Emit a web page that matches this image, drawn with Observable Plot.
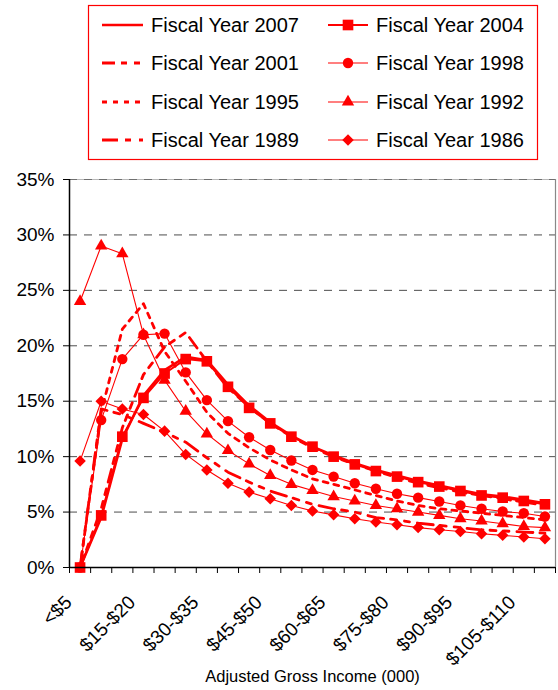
<!DOCTYPE html>
<html><head><meta charset="utf-8">
<script src="https://cdn.jsdelivr.net/npm/d3@7"></script>
<script src="https://cdn.jsdelivr.net/npm/@observablehq/plot@0.6"></script>
<style>
html,body{margin:0;padding:0;background:#fff;}
body{width:558px;height:690px;overflow:hidden;font-family:Arial,"Liberation Sans",sans-serif;}
#legend{width:558px;height:165px;display:block;}
#chart svg{display:block;}
</style></head><body>
<svg id="legend" width="558" height="165"></svg>
<div id="chart"></div>
<script>
// ---- data ----
const categories = ["<$5","$5-$10","$10-$15","$15-$20","$20-$25","$25-$30","$30-$35","$35-$40","$40-$45","$45-$50","$50-$55","$55-$60","$60-$65","$65-$70","$70-$75","$75-$80","$80-$85","$85-$90","$90-$95","$95-$100","$100-$105","$105-$110","$110-$115"];
const labeledCategories = ["<$5","$15-$20","$30-$35","$45-$50","$60-$65","$75-$80","$90-$95","$105-$110"];
const yTicks = [0,5,10,15,20,25,30,35];
const seriesNames = ["Fiscal Year 2007","Fiscal Year 2004","Fiscal Year 2001","Fiscal Year 1998","Fiscal Year 1995","Fiscal Year 1992","Fiscal Year 1989","Fiscal Year 1986"];
const fy2007 = [0,4.5,11.6,15.5,17.8,19.0,18.7,16.5,14.6,13.1,11.9,10.9,10.1,9.4,8.8,8.3,7.8,7.4,7.0,6.6,6.4,6.1,5.8];
const fy2004 = [0,4.7,11.8,15.3,17.5,18.8,18.6,16.3,14.4,13.0,11.8,10.9,10.0,9.3,8.7,8.2,7.7,7.3,6.9,6.5,6.3,6.0,5.7];
const fy2001 = [0,5.3,12.6,17.4,19.9,21.2,18.6,16.2,14.5,13.0,11.8,10.8,10.0,9.3,8.7,8.1,7.6,7.2,6.8,6.5,6.2,5.9,5.6];
const fy1998 = [0,13.3,18.8,21.0,21.1,17.6,15.1,13.2,11.75,10.6,9.65,8.8,8.2,7.6,7.1,6.65,6.3,5.95,5.6,5.3,5.05,4.9,4.6];
const fy1995 = [0,14.0,21.5,23.8,19.5,16.8,14.0,12.1,10.8,9.7,8.8,8.0,7.5,7.0,6.5,6.0,5.6,5.3,5.1,4.9,4.7,4.5,4.3];
const fy1992 = [24.0,29.0,28.3,21.0,16.9,14.1,12.05,10.55,9.35,8.3,7.5,6.95,6.4,6.0,5.6,5.3,5.0,4.7,4.4,4.2,3.95,3.7,3.6];
const fy1989 = [0,14.3,13.8,13.0,12.2,11.3,9.9,8.6,7.7,6.9,6.3,5.7,5.3,5.0,4.5,4.3,4.0,3.8,3.6,3.4,3.3,3.2,3.1];
const fy1986 = [9.6,15.0,14.3,13.8,12.3,10.2,8.8,7.6,6.8,6.2,5.6,5.1,4.75,4.4,4.1,3.85,3.6,3.4,3.25,3.05,2.9,2.75,2.6];
const seriesValues = [fy2007,fy2004,fy2001,fy1998,fy1995,fy1992,fy1989,fy1986];

// ---- styles (kept apart from data) ----
const RED = "#ff0000";
const styles = {
  "Fiscal Year 2007": {w: 2.6, dash: null, symbol: null},
  "Fiscal Year 2004": {w: 2, dash: null, symbol: "square", r: 6},
  "Fiscal Year 2001": {w: 2.8, dash: "13,6,6,7,6,7", symbol: null},
  "Fiscal Year 1998": {w: 1.1, dash: null, symbol: "circle", r: 5.2},
  "Fiscal Year 1995": {w: 2.8, dash: "5,6", symbol: null},
  "Fiscal Year 1992": {w: 1.1, dash: null, symbol: "triangle", r: 4.6},
  "Fiscal Year 1989": {w: 2.8, dash: "16,7,6,8,5,8", symbol: null},
  "Fiscal Year 1986": {w: 1.1, dash: null, symbol: "diamond2", r: 5.2}
};

const table = seriesNames.flatMap((name, s) => seriesValues[s].map((v, i) => ({series: name, i, v})));
const labelIdx = labeledCategories.map(c => categories.indexOf(c));
const boundaries = d3.range(categories.length + 1).map(k => k - 0.5);

const marks = [
  Plot.ruleY(yTicks.filter(d => d > 0), {stroke: "#4d4d4d", strokeDasharray: "8,7", strokeWidth: 1}),
  Plot.ruleX([categories.length - 0.5], {stroke: "#888", strokeWidth: 1.2}),
  Plot.ruleY([yTicks[yTicks.length - 1]], {stroke: "#888", strokeWidth: 1, strokeOpacity: 0.6}),
  Plot.axisY({ticks: yTicks, tickFormat: d => d + "%", tickSize: 6, tickPadding: 9, label: null, fontSize: 19}),
  Plot.axisX({ticks: boundaries, tickFormat: () => "", tickSize: 6, label: null}),
  Plot.text(labelIdx, {x: d => d, frameAnchor: "bottom", text: i => categories[i], rotate: -45, textAnchor: "end", lineAnchor: "bottom", dx: -7, dy: 36, fontSize: 19, fill: "#000"}),
  Plot.text(["Adjusted Gross Income (000)"], {frameAnchor: "bottom", dy: 114, fontSize: 16.5, fill: "#000"})
];
// draw in reverse so that 2007 sits on top
for (const name of [...seriesNames].reverse()) {
  const st = styles[name];
  const rows = table.filter(d => d.series === name);
  marks.push(Plot.line(rows, {x: "i", y: "v", stroke: RED, strokeWidth: st.w, strokeDasharray: st.dash ?? undefined, strokeLinejoin: "round"}));
  if (st.symbol) marks.push(Plot.dot(rows, {x: "i", y: "v", symbol: st.symbol, r: st.r, fill: RED, stroke: "none"}));
}
marks.push(Plot.ruleY([0], {stroke: "#000", strokeWidth: 1.5}));
marks.push(Plot.ruleX([-0.5], {stroke: "#000", strokeWidth: 1.5}));

const chart = Plot.plot({
  width: 558, height: 525,
  marginTop: 14, marginBottom: 123, marginLeft: 69, marginRight: 3,
  style: {fontFamily: "Arial, 'Liberation Sans', sans-serif", fontSize: "19px", color: "#000", background: "#fff", overflow: "visible"},
  x: {type: "linear", domain: [-0.5, categories.length - 0.5]},
  y: {domain: [0, 35]},
  marks
});
document.getElementById("chart").appendChild(chart);

// ---- legend ----
const leg = d3.select("#legend");
leg.append("rect").attr("x", 88.5).attr("y", 5.5).attr("width", 449).attr("height", 154)
  .attr("fill", "none").attr("stroke", RED).attr("stroke-width", 1.2);
const legendOrder = ["Fiscal Year 2007","Fiscal Year 2004","Fiscal Year 2001","Fiscal Year 1998","Fiscal Year 1995","Fiscal Year 1992","Fiscal Year 1989","Fiscal Year 1986"];
const rowY = [25, 63, 102, 140];
const colX = [{x1: 102, x2: 143, tx: 151}, {x1: 328, x2: 368, tx: 376}];
legendOrder.forEach((name, k) => {
  const st = styles[name];
  const c = colX[k % 2], y = rowY[Math.floor(k / 2)];
  leg.append("line").attr("x1", c.x1).attr("x2", c.x2).attr("y1", y).attr("y2", y)
    .attr("stroke", RED).attr("stroke-width", st.w).attr("stroke-dasharray", st.dash);
  if (st.symbol) {
    const typ = {square: d3.symbolSquare, circle: d3.symbolCircle, triangle: d3.symbolTriangle, diamond2: d3.symbolDiamond2}[st.symbol];
    leg.append("path").attr("d", d3.symbol(typ, Math.PI * st.r * st.r)())
      .attr("transform", `translate(${(c.x1 + c.x2) / 2},${y})`).attr("fill", RED);
  }
  leg.append("text").attr("x", c.tx).attr("y", y + 7).attr("font-size", 20)
    .attr("font-family", "Arial, 'Liberation Sans', sans-serif").attr("fill", "#000").text(name);
});
</script>
</body></html>
